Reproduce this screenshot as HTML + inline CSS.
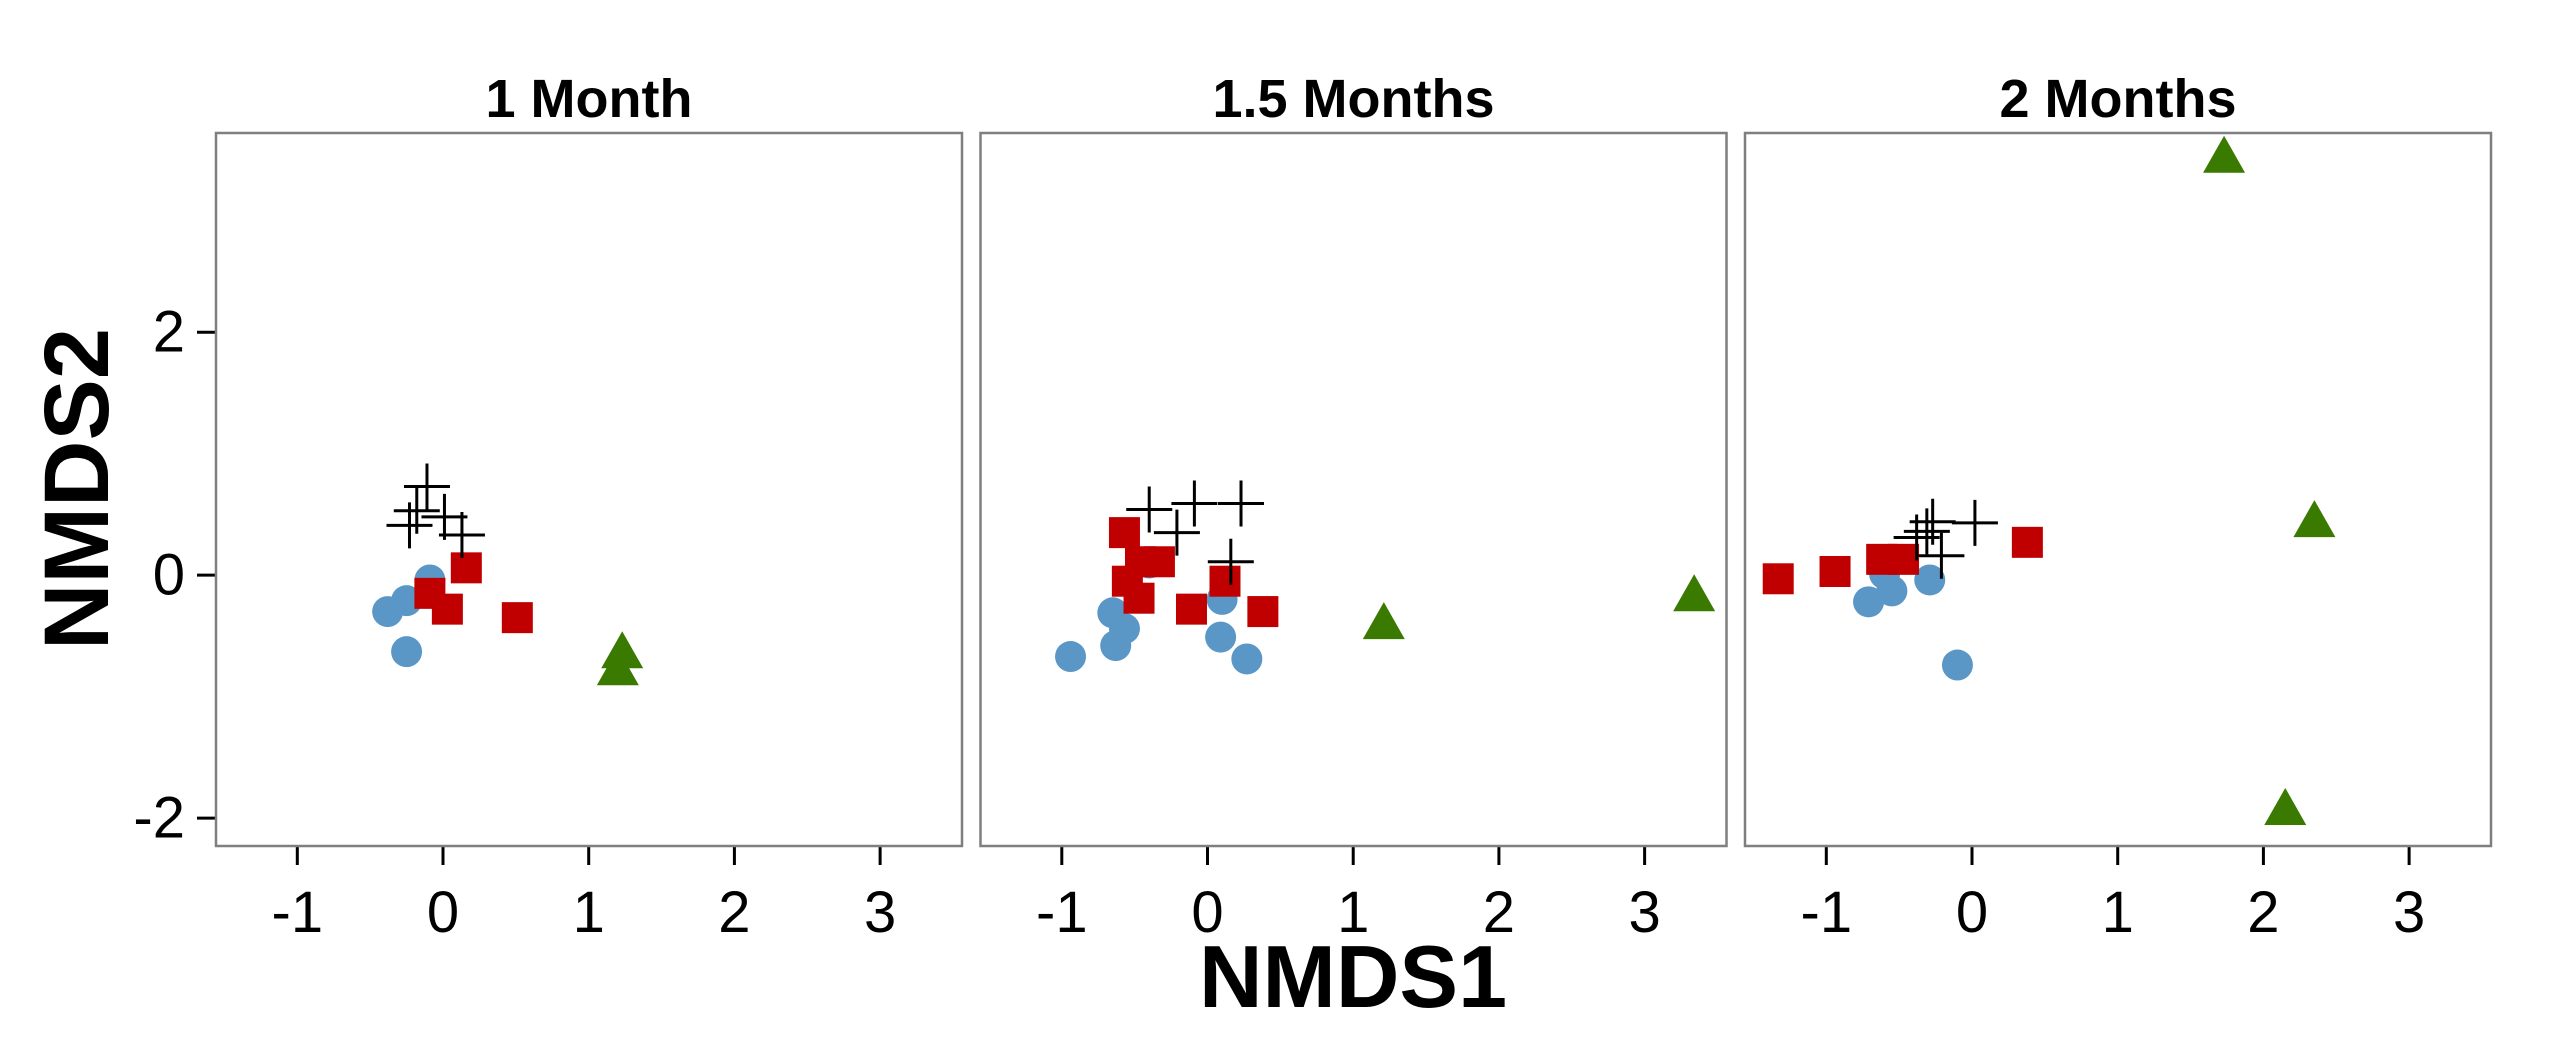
<!DOCTYPE html>
<html><head><meta charset="utf-8"><style>
html,body{margin:0;padding:0;background:#fff;}
svg{display:block;font-family:"Liberation Sans",Arial,sans-serif;}
</style></head><body>
<svg id="chart" width="2550" height="1050" viewBox="0 0 2550 1050" xmlns="http://www.w3.org/2000/svg">
<text x="0" y="0" transform="translate(77,489) rotate(-90)" text-anchor="middle" dominant-baseline="central" font-weight="bold" font-size="92">NMDS2</text>
<text x="1353" y="1007" text-anchor="middle" font-weight="bold" font-size="88">NMDS1</text>
</svg>
<script>
const panelTitles = ["1 Month", "1.5 Months", "2 Months"];
const xTicks = [-1, 0, 1, 2, 3];
const yTicks = [-2, 0, 2];
// circles (blue)
const circleX = [[-0.38,-0.25,-0.09,-0.25],[-0.94,-0.65,-0.57,-0.63,0.10,0.09,0.27,-0.40],[-0.71,-0.60,-0.55,-0.29,-0.10]];
const circleY = [[-0.30,-0.21,-0.04,-0.63],[-0.67,-0.31,-0.44,-0.58,-0.20,-0.51,-0.69,0.10],[-0.22,0.01,-0.13,-0.04,-0.74]];
// squares (red)
const squareX = [[-0.09,0.03,0.16,0.51],[-0.57,-0.46,-0.33,-0.55,-0.47,-0.11,0.12,0.38],[-1.33,-0.94,-0.62,-0.47,0.38]];
const squareY = [[-0.15,-0.28,0.06,-0.35],[0.35,0.11,0.11,-0.05,-0.19,-0.28,-0.05,-0.30],[-0.03,0.03,0.13,0.13,0.27]];
// crosses (black)
const crossX = [[-0.11,-0.18,-0.23,0.01,0.13],[-0.40,-0.09,0.23,-0.21,0.16],[-0.27,-0.38,0.02,-0.21,-0.31]];
const crossY = [[0.73,0.53,0.41,0.48,0.33],[0.54,0.59,0.59,0.35,0.11],[0.44,0.31,0.43,0.16,0.36]];
// triangles (green)
const triX = [[1.23,1.20],[1.21,3.34],[1.73,2.35,2.15]];
const triY = [[-0.66,-0.80],[-0.42,-0.19],[3.42,0.42,-1.95]];

const NS = "http://www.w3.org/2000/svg";
const svg = document.getElementById("chart");
const panelLeft = [216, 980.5, 1745], panelW = 746, pTop = 133, pBottom = 846;
const xMin = -1.558, xMax = 3.562, yMin = -2.23, yMax = 3.64;
function sx(i, v){ return panelLeft[i] + (v - xMin) / (xMax - xMin) * panelW; }
function sy(v){ return pBottom - (v - yMin) / (yMax - yMin) * (pBottom - pTop); }
function mk(tag, attrs, parent){ const e = document.createElementNS(NS, tag); for (const k in attrs) e.setAttribute(k, attrs[k]); (parent || svg).appendChild(e); return e; }

yTicks.forEach(t => {
  const l = mk("line", {x1:197, x2:216, y1:sy(t), y2:sy(t), stroke:"#000", "stroke-width":3});
  
  
  const tx = mk("text", {x:185, y:sy(t), "text-anchor":"end", "dominant-baseline":"central", "font-size":58});
  
  
  tx.textContent = String(t);
});

panelTitles.forEach((title, i) => {
  const g = mk("g", {});
  
  
  const tt = mk("text", {x: panelLeft[i] + panelW/2, y: 117, "text-anchor":"middle", "font-weight":"bold", "font-size":54}, g);
  
  
  tt.textContent = title;
  xTicks.forEach(t => {
    const l = mk("line", {x1:sx(i,t), x2:sx(i,t), y1:846, y2:865, stroke:"#000", "stroke-width":3}, g);
    
    
    const tx = mk("text", {x:sx(i,t), y:932, "text-anchor":"middle", "font-size":58}, g);
    
    
    tx.textContent = String(t);
  });
  circleX[i].forEach((v, j) => {
    const c = mk("circle", {cx:sx(i,v), cy:sy(circleY[i][j]), r:15.5, fill:"#5b97c6"}, g);
    
    
  });
  squareX[i].forEach((v, j) => {
    const r = mk("rect", {x:sx(i,v)-15.5, y:sy(squareY[i][j])-15.5, width:31, height:31, fill:"#c00000"}, g);
    
    
  });
  crossX[i].forEach((v, j) => {
    const cx = sx(i,v), cy = sy(crossY[i][j]);
    const p = mk("path", {d:`M${cx-23},${cy}H${cx+23}M${cx},${cy-23}V${cy+23}`, stroke:"#000", "stroke-width":3, fill:"none"}, g);
    
    
  });
  triX[i].forEach((v, j) => {
    const cx = sx(i,v), cy = sy(triY[i][j]);
    const p = mk("polygon", {points:`${cx},${cy-24} ${cx-21},${cy+13} ${cx+21},${cy+13}`, fill:"#3a7a00"}, g);
    
    
  });
  const b = mk("rect", {x:panelLeft[i], y:pTop, width:panelW, height:pBottom-pTop, fill:"none", stroke:"#7f7f7f", "stroke-width":2.5}, g);
  
  
});
</script>
</body></html>
